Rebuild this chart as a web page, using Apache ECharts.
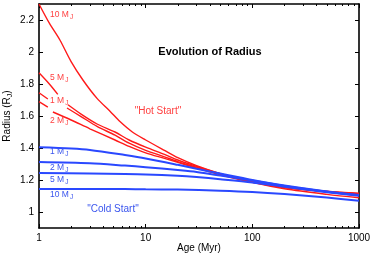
<!DOCTYPE html>
<html><head><meta charset="utf-8">
<script src="https://cdn.jsdelivr.net/npm/echarts@6/dist/echarts.min.js"></script>
<style>html,body{margin:0;padding:0;background:#fff}#c{width:374px;height:256px}</style>
</head><body><div id="c"></div>
<script>
// Hot start (red) radius vs age [Myr, R_J]; '-' marks a break in the line
var hot10 = [[1,2.30],[1.25,2.18],[1.57,2.075],[2,1.94],[2.58,1.825],[3.5,1.71],[4.63,1.63],[5.74,1.565],[7.5,1.5],[10,1.45],[15,1.385],[20,1.34],[30,1.29],[50,1.24],[100,1.185],[200,1.145],[500,1.11],[1000,1.089]];
var hot5 = [[1,1.87],[1.25,1.80],[1.5,1.735],[1.7,'-'],[1.87,1.67],[2.5,1.61],[3.5,1.55],[5.16,1.50],[7,1.45],[10,1.405],[15,1.36],[20,1.325],[30,1.285],[50,1.24],[100,1.19],[200,1.155],[500,1.13],[1000,1.117]];
var hot1 = [[1,1.745],[1.21,1.706],[1.5,'-'],[1.83,1.65],[2.5,1.595],[3.5,1.535],[5.16,1.48],[7,1.43],[10,1.385],[15,1.345],[20,1.315],[30,1.28],[50,1.235],[100,1.188],[200,1.155],[500,1.128],[1000,1.115]];
var hot2 = [[1,1.69],[1.21,1.656],[1.28,'-'],[1.35,1.625],[2,1.575],[3,1.52],[5.16,1.45],[7,1.41],[10,1.37],[15,1.335],[20,1.31],[30,1.275],[50,1.232],[100,1.185],[200,1.152],[500,1.127],[1000,1.113]];
// Cold start (blue)
var cold1 = [[1,1.405],[2,1.397],[3,1.388],[6.4,1.356],[10,1.335],[20,1.295],[30,1.27],[50,1.24],[100,1.2],[200,1.165],[500,1.128],[1000,1.106]];
var cold2 = [[1,1.3125],[3,1.305],[6.4,1.29],[10,1.28],[20,1.262],[30,1.25],[50,1.228],[100,1.197],[200,1.163],[500,1.127],[1000,1.105]];
var cold5 = [[1,1.243],[3,1.241],[6.4,1.238],[10,1.235],[20,1.226],[30,1.218],[50,1.205],[100,1.185],[200,1.158],[500,1.124],[1000,1.102]];
var cold10 = [[1,1.143],[6.4,1.143],[10,1.142],[20,1.14],[50,1.133],[100,1.125],[200,1.112],[500,1.09],[1000,1.071]];

var yTicks = [1,1.2,1.4,1.6,1.8,2,2.2];
var xMajorTicks = [1,10,100,1000];
var xMinorTicks = [2,3,4,5,6,7,8,9,20,30,40,50,60,70,80,90,200,300,400,500,600,700,800,900];
var hotLabels = ['10 M','5 M','1 M','2 M'];
var coldLabels = ['1 M','2 M','5 M','10 M'];

var RED = '#ff1a1a', BLUE = '#2a48ff', RTXT = '#ff4040', BTXT = '#3a55ee';
var FONT = '"Liberation Sans", Arial, Helvetica, sans-serif';

var chart = echarts.init(document.getElementById('c'), null, {renderer:'canvas'});

function xAx(pos, minor) {
  return {
    type:'log', logBase:10, min:1, max:1000, position:pos,
    axisLine:{show:!minor, onZero:false, lineStyle:{color:'#000', width:1.6}},
    axisTick:{show:true, inside:true, length: minor?2:4, lineStyle:{color:'#000', width:1},
      customValues: minor ? xMinorTicks : xMajorTicks},
    axisLabel:{show: pos==='bottom' && !minor, color:'#000', fontSize:10, fontFamily:FONT, margin:5,
      formatter:function(v){ return String(Math.round(v)); }},
    splitLine:{show:false}, minorTick:{show:false},
    name: (pos==='bottom' && !minor) ? 'Age (Myr)' : '',
    nameLocation:'middle', nameGap:15, nameMoveOverlap:false,
    nameTextStyle:{color:'#000', fontSize:10, fontFamily:FONT}
  };
}
function yAx(pos) {
  return {
    type:'value', min:0.9, max:2.3, position:pos,
    axisLine:{show:true, onZero:false, lineStyle:{color:'#000', width:1.6}},
    axisTick:{show:true, inside:true, length:4, lineStyle:{color:'#000', width:1}, customValues:yTicks},
    axisLabel:{show: pos==='left', color:'#000', fontSize:10, fontFamily:FONT, margin:5, customValues:yTicks},
    splitLine:{show:false},
    name: pos==='left' ? '{a|Radius (R}{s|J}{a|)}' : '',
    nameLocation:'middle', nameGap:25, nameRotate:90, nameMoveOverlap:false,
    nameTextStyle:{color:'#000', fontFamily:FONT, rich:{
      a:{fontSize:10, color:'#000', fontFamily:FONT, verticalAlign:'top'},
      s:{fontSize:7, color:'#000', fontFamily:FONT, verticalAlign:'top', padding:[5,0,0,0]}}}
  };
}

function line(data, color, w) {
  return {type:'line', data:data, xAxisIndex:0, yAxisIndex:0, showSymbol:false, symbol:'none',
    smooth:0.3, connectNulls:false, silent:true,
    lineStyle:{color:color, width:w}, animation:false};
}

function massLabel(txt, x, y, col) {
  return {type:'text', x:x, y:y, z:100, style:{
    text:'{m|'+txt+'}{s|J}', fill:col, font:'8.5px '+FONT,
    rich:{m:{fontSize:8.5, fill:col, fontFamily:FONT, verticalAlign:'top'},
          s:{fontSize:6.5, fill:col, fontFamily:FONT, verticalAlign:'top', padding:[4,0,0,1]}}}};
}

var hotY = [10, 73, 96, 116];
var coldY = [147, 163, 175, 190];
var graphics = [];
hotLabels.forEach(function(t,i){ graphics.push(massLabel(t, 50, hotY[i], RTXT)); });
coldLabels.forEach(function(t,i){ graphics.push(massLabel(t, 50, coldY[i], BTXT)); });
graphics.push({type:'text', x:158, y:111, z:100, style:{text:'"Hot Start"', fill:RTXT, font:'10px '+FONT, align:'center', verticalAlign:'middle'}});
graphics.push({type:'text', x:113, y:209, z:100, style:{text:'"Cold Start"', fill:BTXT, font:'10px '+FONT, align:'center', verticalAlign:'middle'}});
graphics.push({type:'text', x:210, y:52, z:100, style:{text:'Evolution of Radius', fill:'#000', font:'bold 11px '+FONT, align:'center', verticalAlign:'middle'}});

chart.setOption({
  animation:false,
  backgroundColor:'#fff',
  grid:{left:39, right:15, top:4, bottom:28, containLabel:false, outerBoundsMode:'none'},
  xAxis:[xAx('bottom',false), xAx('bottom',true), xAx('top',false), xAx('top',true)],
  yAxis:[yAx('left'), yAx('right')],
  series:[
    line(hot10, RED, 1.4), line(hot5, RED, 1.4), line(hot1, RED, 1.4), line(hot2, RED, 1.4),
    line(cold1, BLUE, 2), line(cold2, BLUE, 2), line(cold5, BLUE, 2), line(cold10, BLUE, 2)
  ],
  graphic:graphics
});
</script></body></html>
